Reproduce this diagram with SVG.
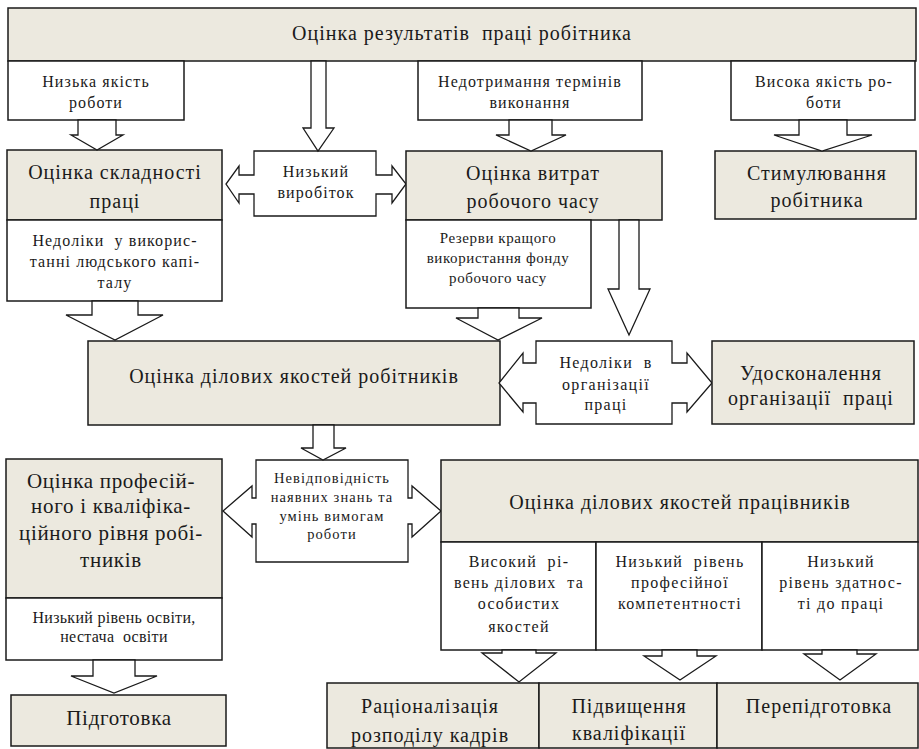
<svg xmlns="http://www.w3.org/2000/svg" width="919" height="749" viewBox="0 0 919 749" font-family="Liberation Serif, 'DejaVu Serif', serif">
<style>
.b{fill:#ECE9DF;stroke:#1a1a1a;stroke-width:1.5}
.w{fill:#fff;stroke:#1a1a1a;stroke-width:1.5}
.a{fill:#fff;stroke:#1a1a1a;stroke-width:1.3;stroke-linejoin:miter}
text{font-family:"Liberation Serif","DejaVu Serif",serif;fill:#1a1a1a;text-anchor:middle}
.L{font-size:20px;letter-spacing:1px}
.XL{font-size:21px;letter-spacing:0.7px}
.M{font-size:16px;letter-spacing:1.1px}
.S{font-size:15px;letter-spacing:0.6px}
.N{font-size:16px;letter-spacing:1.3px}
.T{font-size:14.5px;letter-spacing:1.1px}
.C{font-size:16px;letter-spacing:0.3px}
</style>
<rect width="919" height="749" fill="#fff"/>

<g id="n-top"><rect class="b" x="8" y="8" width="908" height="53"/><text class="L" x="462" y="40">Оцінка результатів &#160;праці робітника</text></g>

<g id="n-low-quality"><rect class="w" x="8" y="61" width="176" height="59"/><text class="M" x="96" y="87">Низька якість</text><text class="M" x="96" y="108">роботи</text></g>
<g id="n-deadline"><rect class="w" x="418" y="61" width="224" height="59"/><text class="M" x="530" y="87">Недотримання термінів</text><text class="M" x="530" y="108">виконання</text></g>
<g id="n-high-quality"><rect class="w" x="731" y="61" width="184" height="59"/><text class="M" x="824" y="87">Висока якість ро-</text><text class="M" x="824" y="108">боти</text></g>

<g id="n-complexity"><rect class="b" x="7" y="150" width="215" height="70"/><text class="L" x="115" y="179">Оцінка складності</text><text class="L" x="115" y="208">праці</text>
<rect class="w" x="7" y="220" width="215" height="81"/><text class="M" x="115" y="246">Недоліки &#160;у викорис-</text><text class="M" x="115" y="267">танні людського капі-</text><text class="M" x="115" y="288">талу</text></g>

<g id="n-low-output"><polygon class="a" points="254,151 376,151 376,175 392,175 392,166 406,184 392,203 392,194 376,194 376,216 254,216 254,194 239,194 239,203 226,184 239,166 239,175 254,175"/><text class="M" x="316" y="177">Низький</text><text class="M" x="316" y="198">виробіток</text></g>

<g id="n-time"><rect class="b" x="406" y="151" width="256" height="69"/><text class="L" x="533" y="180">Оцінка витрат</text><text class="L" x="533" y="208">робочого часу</text>
<rect class="w" x="406" y="220" width="185" height="88"/><text class="S" x="498" y="243">Резерви кращого</text><text class="S" x="498" y="263">використання фонду</text><text class="S" x="498" y="283">робочого часу</text></g>

<g id="n-stimulus"><rect class="b" x="715" y="151" width="201" height="68"/><text class="L" x="817" y="180">Стимулювання</text><text class="L" x="817" y="207">робітника</text></g>

<g id="n-business-workers"><rect class="b" x="88" y="341" width="412" height="84"/><text class="L" x="294" y="383">Оцінка ділових якостей робітників</text></g>

<g id="n-org-flaws"><polygon class="a" points="536,341 672,341 672,363 687,363 687,353 712,383 687,412 687,403 672,403 672,424 536,424 536,403 523,403 523,412 499,383 523,353 523,363 536,363"/><text class="N" x="606" y="368">Недоліки &#160;в</text><text class="N" x="606" y="390">організації</text><text class="N" x="606" y="410">праці</text></g>

<g id="n-improve-org"><rect class="b" x="712" y="341" width="202" height="83"/><text class="L" x="811" y="380">Удосконалення</text><text class="L" x="811" y="405">організації &#160;праці</text></g>

<g id="n-mismatch"><polygon class="a" points="256,460 408,460 408,498 412,498 412,486 441,511 412,537 412,524 408,524 408,562 256,562 256,524 252,524 252,537 223,511 252,486 252,498 256,498"/><text class="T" x="332" y="483">Невідповідність</text><text class="T" x="332" y="502">наявних знань та</text><text class="T" x="332" y="521">умінь вимогам</text><text class="T" x="332" y="539">роботи</text></g>

<g id="n-prof-level"><rect class="b" x="6" y="459" width="216" height="139"/><text class="XL" x="111" y="488">Оцінка професій-</text><text class="XL" x="111" y="513">ного і кваліфіка-</text><text class="XL" x="111" y="540">ційного рівня робі-</text><text class="XL" x="111" y="567">тників</text>
<rect class="w" x="6" y="598" width="216" height="62"/><text class="C" x="114" y="623">Низький рівень освіти,</text><text class="C" x="114" y="642">нестача &#160;освіти</text></g>

<g id="n-training"><rect class="b" x="11" y="695" width="215" height="51"/><text class="XL" x="119" y="725">Підготовка</text></g>

<g id="n-business-employees"><rect class="b" x="441" y="460" width="477" height="82"/><text class="L" x="680" y="509">Оцінка ділових якостей працівників</text>
<rect class="w" x="441" y="542" width="155" height="108"/><text class="N" x="519" y="567">Високий &#160;рі-</text><text class="N" x="519" y="588">вень ділових &#160;та</text><text class="N" x="519" y="609">особистих</text><text class="N" x="519" y="632">якостей</text>
<rect class="w" x="596" y="542" width="166" height="108"/><text class="N" x="680" y="567">Низький &#160;рівень</text><text class="N" x="680" y="588">професійної</text><text class="N" x="680" y="609">компетентності</text>
<rect class="w" x="762" y="542" width="156" height="108"/><text class="N" x="841" y="567">Низький</text><text class="N" x="841" y="588">рівень здатнос-</text><text class="N" x="841" y="609">ті до праці</text></g>

<g id="n-outcomes">
<rect class="b" x="327" y="683" width="212" height="65"/><text class="L" x="430" y="713">Раціоналізація</text><text class="L" x="430" y="742">розподілу кадрів</text>
<rect class="b" x="539" y="683" width="178" height="65"/><text class="L" x="629" y="713">Підвищення</text><text class="L" x="629" y="740">кваліфікації</text>
<rect class="b" x="717" y="683" width="201" height="65"/><text class="L" x="819" y="713">Перепідготовка</text>
</g>

<g id="connectors">
<polygon class="a" points="78,120 78,135 71,135 97,150 123,135 116,135 116,120"/>
<polygon class="a" points="311,61 311,128 303,128 318,151 334,128 326,128 326,61"/>
<polygon class="a" points="509,120 509,135 496,135 531,151 566,135 552,135 552,120"/>
<polygon class="a" points="799,120 799,135 774,135 822,151 872,135 847,135 847,120"/>
<polygon class="a" points="92,301 92,315 66,315 115,340 163,315 138,315 138,301"/>
<polygon class="a" points="478,308 478,318 456,318 498,340 542,318 519,318 519,308"/>
<polygon class="a" points="619,220 619,289 608,289 629,335 650,289 639,289 639,220"/>
<polygon class="a" points="313,425 313,448 301,448 323,460 346,448 334,448 334,425"/>
<polygon class="a" points="93,660 93,676 71,676 114,693 157,676 135,676 135,660"/>
<polygon class="a" points="502,650 502,653 482,653 519,682 556,653 536,653 536,650"/>
<polygon class="a" points="662,650 662,656 644,656 680,680 716,656 697,656 697,650"/>
<polygon class="a" points="822,650 822,654 804,654 840,680 876,654 857,654 857,650"/>
</g>
</svg>
